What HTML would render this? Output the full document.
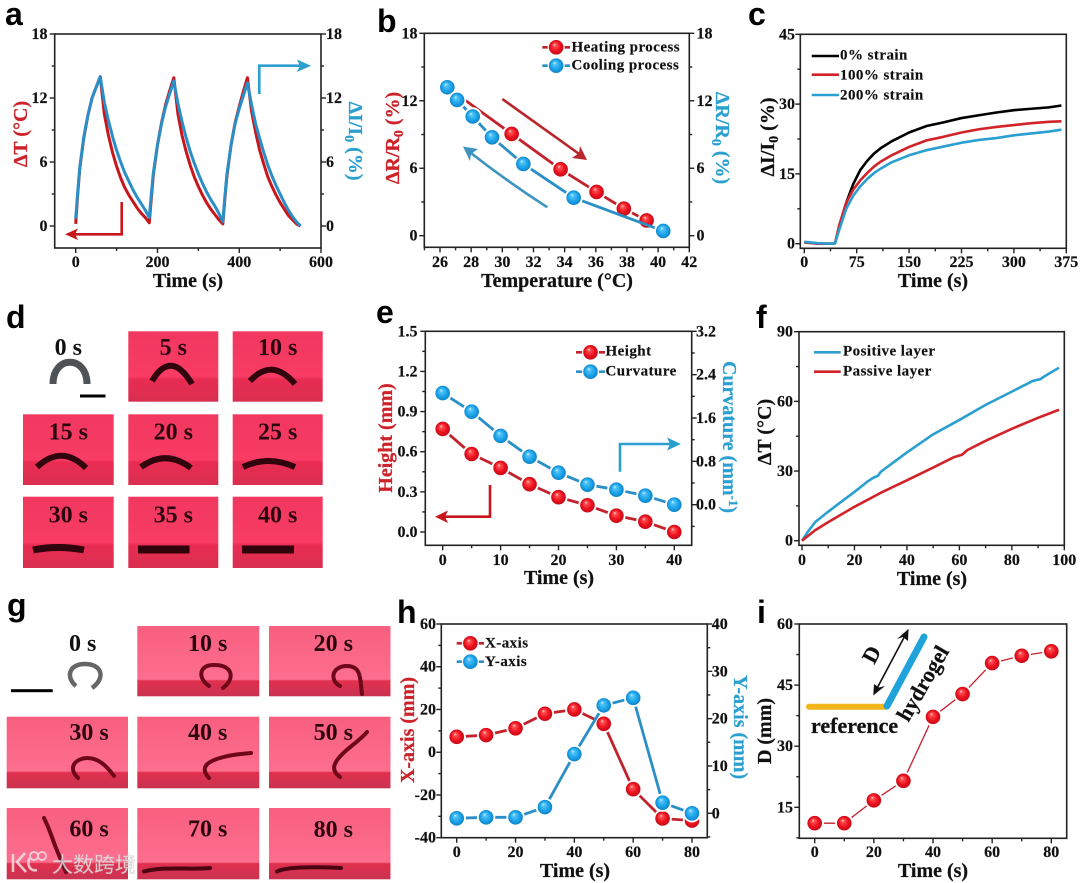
<!DOCTYPE html>
<html lang="en">
<head>
<meta charset="utf-8">
<title>Hydrogel actuator figure</title>
<style>
html,body{margin:0;padding:0;background:#fff;}
svg{display:block;filter:blur(.3px);}
text{font-family:"Liberation Serif","Noto Serif CJK SC",serif;font-weight:bold;fill:#111;}
.tick{font-size:16px;stroke:#111;stroke-width:.2px;}
.title{font-size:20px;text-anchor:middle;stroke:#111;stroke-width:.25px;}
.legend{font-size:15px;letter-spacing:.45px;stroke:#111;stroke-width:.15px;}
.letter{font-family:"Liberation Sans",sans-serif;font-size:32px;fill:#000;}
.red{fill:#cc2229;stroke:#cc2229;}
.blue{fill:#2a9fd0;stroke:#2a9fd0;}
.cap{font-size:24px;text-anchor:middle;fill:#2b0610;}
.spec{fill:none;stroke:#30030d;stroke-linecap:butt;}
.specg{fill:none;stroke:#6e0719;stroke-width:4;stroke-linecap:round;}
.ar{fill:none;stroke-width:2.6;}
</style>
</head>
<body>
<svg id="fig" xmlns="http://www.w3.org/2000/svg" width="1080" height="883" viewBox="0 0 1080 883">
<defs>
<radialGradient id="ballRed" cx="50%" cy="50%" r="52%" fx="38%" fy="30%">
<stop offset="0" stop-color="#ffe0e0"/><stop offset=".2" stop-color="#ff5050"/><stop offset=".65" stop-color="#ec0f1e"/><stop offset="1" stop-color="#c00c18"/>
</radialGradient>
<radialGradient id="ballBlue" cx="50%" cy="50%" r="52%" fx="38%" fy="30%">
<stop offset="0" stop-color="#e0f5ff"/><stop offset=".2" stop-color="#52c4f8"/><stop offset=".65" stop-color="#1aa2e8"/><stop offset="1" stop-color="#1080c4"/>
</radialGradient>
<linearGradient id="dBg" x1="0" y1="0" x2="0" y2="1">
<stop offset="0" stop-color="#f23860"/><stop offset=".64" stop-color="#f83c64"/><stop offset=".68" stop-color="#e82c52"/><stop offset="1" stop-color="#da2f50"/>
</linearGradient>
<linearGradient id="gBg" x1="0" y1="0" x2="0" y2="1">
<stop offset="0" stop-color="#f85f80"/><stop offset=".76" stop-color="#fd6e8e"/><stop offset=".78" stop-color="#e0304f"/><stop offset="1" stop-color="#c93350"/>
</linearGradient>
</defs>

<!-- panel letters -->
<text class="letter" x="5" y="25">a</text>
<text class="letter" x="377" y="32">b</text>
<text class="letter" x="748" y="25">c</text>
<text class="letter" x="6" y="328">d</text>
<text class="letter" x="376" y="323">e</text>
<text class="letter" x="756" y="328">f</text>
<text class="letter" x="7" y="616">g</text>
<text class="letter" x="397" y="623">h</text>
<text class="letter" x="757" y="623">i</text>

<!-- axis titles -->
<text class="title" x="188" y="287">Time (s)</text>
<text class="title red" transform="rotate(-90 27 134)" x="27" y="134">ΔT (°C)</text>
<text class="title blue" transform="rotate(90 349 141)" x="349" y="141">ΔI/I<tspan dy="4" font-size="14">0</tspan><tspan dy="-4"> (%)</tspan></text>

<text class="title" x="557" y="287">Temperature (°C)</text>
<text class="title red" transform="rotate(-90 399 138)" x="399" y="138">ΔR/R<tspan dy="4" font-size="14">0</tspan><tspan dy="-4"> (%)</tspan></text>
<text class="title blue" transform="rotate(90 716 138)" x="716" y="138">ΔR/R<tspan dy="4" font-size="14">0</tspan><tspan dy="-4"> (%)</tspan></text>

<text class="title" x="933" y="287">Time (s)</text>
<text class="title" transform="rotate(-90 774 137)" x="774" y="137">ΔI/I<tspan dy="4" font-size="14">0</tspan><tspan dy="-4"> (%)</tspan></text>

<text class="title" x="559" y="584">Time (s)</text>
<text class="title red" transform="rotate(-90 392 438)" x="392" y="438">Height (mm)</text>
<text class="title blue" transform="rotate(90 723 437)" x="723" y="437">Curvature (mm<tspan dy="-6" font-size="13">-1</tspan><tspan dy="6">)</tspan></text>

<text class="title" x="932" y="585">Time (s)</text>
<text class="title" transform="rotate(-90 771 432)" x="771" y="432">ΔT (°C)</text>

<text class="title" x="575" y="877">Time (s)</text>
<text class="title red" transform="rotate(-90 414 730)" x="414" y="730">X-axis (mm)</text>
<text class="title blue" transform="rotate(90 734 727)" x="734" y="727">Y-axis (mm)</text>

<text class="title" x="933" y="877">Time (s)</text>
<text class="title" transform="rotate(-90 771 731)" x="771" y="731">D (mm)</text>

<!-- panel d photo strip -->
<g>
<g>
<path d="M53 384 C53 355 87 355 87 384" fill="none" stroke="#505355" stroke-width="7"/>
<rect x="80" y="394.5" width="25.5" height="3" fill="#000"/>
<text class="cap" x="68.3" y="355" style="fill:#111">0 s</text>
</g>
<g><rect x="128.3" y="331.3" width="90" height="70.4" fill="url(#dBg)"/><path class="spec" stroke-width="6" d="M152 381 Q171 349 192 384"/><text class="cap" x="173.3" y="355">5 s</text></g>
<g><rect x="232.7" y="331.3" width="90" height="70.4" fill="url(#dBg)"/><path class="spec" stroke-width="6" d="M250 381 Q272 357 295 384"/><text class="cap" x="277.7" y="355">10 s</text></g>
<g><rect x="23" y="414.3" width="90.7" height="70.7" fill="url(#dBg)"/><path class="spec" stroke-width="6" d="M37 467 Q62 444 86 468"/><text class="cap" x="68.3" y="439.3">15 s</text></g>
<g><rect x="128.3" y="414.3" width="90" height="70.7" fill="url(#dBg)"/><path class="spec" stroke-width="6" d="M141 467 Q166 449 191 468"/><text class="cap" x="173.3" y="439.3">20 s</text></g>
<g><rect x="232.7" y="414.3" width="90" height="70.7" fill="url(#dBg)"/><path class="spec" stroke-width="6" d="M243 467 Q268 455 295 467"/><text class="cap" x="277.7" y="439.3">25 s</text></g>
<g><rect x="23" y="496.7" width="90.7" height="71.3" fill="url(#dBg)"/><path class="spec" stroke-width="7" d="M33 550 Q58 545 84 550"/><text class="cap" x="68.3" y="522.7">30 s</text></g>
<g><rect x="128.3" y="496.7" width="90" height="71.3" fill="url(#dBg)"/><path class="spec" stroke-width="8" d="M138 549.5 L189.5 549.5"/><text class="cap" x="173.3" y="522.7">35 s</text></g>
<g><rect x="232.7" y="496.7" width="90" height="71.3" fill="url(#dBg)"/><path class="spec" stroke-width="8" d="M242 549.5 L294 549.5"/><text class="cap" x="277.7" y="522.7">40 s</text></g>
</g>

<!-- panel g photo strip -->
<g>
<g>
<path d="M76 686 C66 678 68 664 85 664 C102 664 106 678 92 688" fill="none" stroke="#666" stroke-width="4.5"/>
<rect x="11" y="689.2" width="41.7" height="3" fill="#000"/>
<text class="cap" x="82.7" y="651" style="fill:#111">0 s</text>
</g>
<g><rect x="137.3" y="626" width="122" height="70.3" fill="url(#gBg)"/><path class="specg" d="M209 686 C197 678 199 664 215 665 C232 665 236 678 223 688"/><text class="cap" x="207.7" y="651">10 s</text></g>
<g><rect x="269" y="626" width="121.5" height="70.3" fill="url(#gBg)"/><path class="specg" d="M340 686 C329 680 332 666 347 666 C362 666 360 680 362 694"/><text class="cap" x="333.3" y="651">20 s</text></g>
<g><rect x="6.7" y="716.7" width="121.3" height="71.6" fill="url(#gBg)"/><path class="specg" d="M78 778 C66 766 78 758 87 758 C98 758 106 765 114 776"/><text class="cap" x="89" y="740">30 s</text></g>
<g><rect x="137.3" y="716.7" width="122" height="71.6" fill="url(#gBg)"/><path class="specg" d="M209 778 C200 768 206 762 220 758 C232 754 242 754 251 753"/><text class="cap" x="207.7" y="740">40 s</text></g>
<g><rect x="269" y="716.7" width="121.5" height="71.6" fill="url(#gBg)"/><path class="specg" d="M340 777 C330 770 333 762 346.7 750 C355 743 362 738 367 732"/><text class="cap" x="333.3" y="740">50 s</text></g>
<g><rect x="6.7" y="808" width="121.3" height="71.3" fill="url(#gBg)"/><path class="specg" d="M44 818 C50 830 52 838 56 848 C60 858 63 864 66 872"/><text class="cap" x="89" y="836.7">60 s</text></g>
<g><rect x="137.3" y="808" width="122" height="71.3" fill="url(#gBg)"/><path class="specg" style="stroke:#4a0412" d="M144 871.5 C165 866 190 870 210 868"/><text class="cap" x="207.7" y="836.7">70 s</text></g>
<g><rect x="269" y="808" width="121.5" height="71.3" fill="url(#gBg)"/><path class="specg" style="stroke:#4a0412" d="M277 871.5 C288 866 320 867 341 868"/><text class="cap" x="333.3" y="837">80 s</text></g>
</g>

<!-- watermark -->
<g opacity=".78">
<path d="M13 854 L13 872 M25 853 L17 862 L26 872 M30 858 C26 864 30 872 37 870" fill="none" stroke="#eee" stroke-width="2.6"/>
<circle cx="34" cy="856" r="4" fill="none" stroke="#eee" stroke-width="1.8"/>
<circle cx="42" cy="856" r="4" fill="none" stroke="#eee" stroke-width="1.8"/>
<text x="52" y="872" style="font-family:'Liberation Sans','Noto Sans CJK SC',sans-serif;font-size:21px;font-weight:normal;fill:#f2f2f2;stroke:#bbb;stroke-width:.4px">大数跨境</text>
</g>

<!-- annotation arrows -->
<g><polyline class="ar" stroke="#c8161d" points="121.7,202 121.7,234.3 72,234.3"/><polygon fill="#c8161d" points="65,234.3 78,228.5 75,234.3 78,240"/></g>
<g><polyline class="ar" stroke="#2a9fd0" points="259.3,94 259.3,65.7 304,65.7"/><polygon fill="#2a9fd0" points="311,65.7 297,59.5 300,65.7 297,72"/></g>
<g><line class="ar" stroke="#b8252b" x1="502.3" y1="99" x2="582" y2="156"/><polygon fill="#b8252b" points="587,160 572,158 579,153 580,146"/></g>
<g><path class="ar" stroke="#3d94c0" d="M547.3 207.3 Q505 180 467 150"/><polygon fill="#3d94c0" points="463,146.5 478,149 471,154 470,161"/></g>
<g><polyline class="ar" stroke="#c8161d" points="490,485 490,516.7 442,516.7"/><polygon fill="#c8161d" points="435,516.7 448,510.5 445,516.7 448,523"/></g>
<g><polyline class="ar" stroke="#2a9fd0" points="620,471.7 620,444 674,444"/><polygon fill="#2a9fd0" points="681,444 667,437.5 670,444 667,450.5"/></g>

<!-- panel i inset schematic -->
<g>
<line x1="809" y1="706.7" x2="886" y2="706.7" stroke="#f2b61c" stroke-width="6" stroke-linecap="round"/>
<line x1="887" y1="706" x2="924" y2="637" stroke="#1fa3da" stroke-width="7" stroke-linecap="round"/>
<line x1="874" y1="694" x2="908" y2="630" stroke="#111" stroke-width="1.6"/>
<polygon fill="#111" points="908.5,629 908,641 903,637 897,639"/>
<polygon fill="#111" points="873.3,695.5 874,684 879,687.5 885,686"/>
<text class="title" style="font-size:22px" x="0" y="0" transform="translate(878 658) rotate(-62)">D</text>
<text class="title" style="font-size:22px" x="0" y="0" transform="translate(929 687) rotate(-60)">hydrogel</text>
<text class="title" style="font-size:22px;text-anchor:start" x="811" y="733">reference</text>
</g>

<g id="charts"></g>
</svg>

<script>
/* ---------- panel a ---------- */
const aTime = [0,5,10,20,30,40,50,60,70,80,90,100,110,120,130,140,150,160,170,180,185,190,200,210,220,230,240,250,260,270,280,290,300,310,320,330,340,350,360,365,370,380,390,400,410,420,430,440,450,460,470,480,490,500,510,520,530,540,550];
const aDeltaT = [0.2,3,5.4,8.3,10.4,12,13,14,10.5,8.5,6.9,5.6,4.5,3.6,2.9,2.3,1.7,1.2,0.8,0.3,2.6,4.8,7.6,9.7,11.4,12.7,13.9,10.5,8.5,7,5.7,4.6,3.7,2.9,2.2,1.6,1.1,0.6,0.2,2.6,4.7,7.6,9.7,11.2,12.6,13.9,10.8,8.8,7.1,5.8,4.6,3.7,2.9,2.2,1.6,1,0.6,0.2,0];
const aDeltaI = [0.7,3.2,5.5,8.4,10.4,12,13,14,11.6,9.9,8.4,7.1,6,5,4.2,3.4,2.7,2.1,1.5,0.8,3,5,7.6,9.6,11.2,12.4,13.6,11.5,9.8,8.3,7,5.9,4.9,4,3.2,2.5,1.9,1.2,0.4,2.8,4.9,7.6,9.6,11,12.2,13.4,11.4,9.6,8.2,6.9,5.7,4.7,3.8,3,2.2,1.5,0.9,0.4,0];
const aXTicks = ['0','200','400','600'];
const aYTicks = ['0','6','12','18'];

/* ---------- panel b ---------- */
const bHeatTemp = [26.47,30.6,33.74,36.05,37.8,39.26];
const bHeatR = [13.2,9.05,5.9,3.89,2.4,1.36];
const bCoolTemp = [26.47,27.1,28.1,29.34,31.35,34.58,40.33];
const bCoolR = [13.2,12.07,10.6,8.75,6.38,3.38,0.42];
const bXTicks = ['26','28','30','32','34','36','38','40','42'];
const bYTicks = ['0','6','12','18'];

/* ---------- panel c ---------- */
const cTime = [0,20,40,44,50,60,70,80,90,100,110,125,150,175,200,225,250,275,300,325,350,368];
const cStrain0 = [0.3,0,0,0.1,3.5,8.8,12.8,15.8,17.8,19.4,20.6,22,23.9,25.3,26.1,27,27.6,28.2,28.7,29,29.3,29.7];
const cStrain100 = [0.3,0,0,0.1,4,8.8,11.6,13.6,15.2,16.6,17.7,19,20.8,22.2,23,23.9,24.6,25.1,25.5,25.9,26.2,26.3];
const cStrain200 = [0.4,0.1,0,0.1,3,7.5,10.3,12.3,13.9,15.2,16.2,17.5,19,20.1,20.9,21.7,22.3,22.7,23.3,23.7,24.1,24.5];
const cXTicks = ['0','75','150','225','300','375'];
const cYTicks = ['0','15','30','45'];

/* ---------- panel e ---------- */
const eTime = [0,5,10,15,20,25,30,35,40];
const eHeight = [0.77,0.583,0.479,0.357,0.26,0.2,0.122,0.077,0];
const eCurvature = [2.06,1.717,1.27,0.886,0.59,0.37,0.277,0.166,0];
const eXTicks = ['0','10','20','30','40'];
const eYTicks = ['0.0','0.3','0.6','0.9','1.2','1.5'];
const eRightTicks = ['0.0','0.8','1.6','2.4','3.2'];

/* ---------- panel f ---------- */
const fPosTime = [0,2,5,10,15,20,25,27,29,30,31,40,50,60,70,80,88,91,92,98];
const fPositive = [0,3.5,8,12.5,16.8,21,25.5,27,28,29.6,30.5,38,45.8,52,58.5,64.2,68.8,69.6,70.5,74.5];
const fPasTime = [0,5,10,20,30,40,50,58,61,63,70,80,90,98];
const fPassive = [0,4.5,8,14.6,20.6,26,31.5,36,37,39,43,48.2,52.9,56.4];
const fXTicks = ['0','20','40','60','80','100'];
const fYTicks = ['0','30','60','90'];

/* ---------- panel h ---------- */
const hTime = [0,10,20,30,40,50,60,70,80];
const hXAxis = [7.2,8,11.2,18,20,13.3,-17.3,-31,-32];
const hYAxis = [-1.06,-0.85,-0.85,1.3,12.5,22.8,24.4,2.25,0];
const hXTicks = ['0','20','40','60','80'];
const hYTicks = ['-40','-20','0','20','40','60'];
const hRightTicks = ['0','10','20','30','40'];

/* ---------- panel i ---------- */
const iTime = [0,10,20,30,40,50,60,70,80];
const iD = [11.1,11.1,16.7,21.5,37.2,42.8,50.4,52.2,53.3];
const iXTicks = ['0','20','40','60','80'];
const iYTicks = ['15','30','45','60'];

const SVGNS = 'http://www.w3.org/2000/svg';
const DARKAX = '#222';
const chartsRoot = document.getElementById('charts');

function make(tag, attrs, parent) {
  const el = document.createElementNS(SVGNS, tag);
  for (const k in attrs) el.setAttribute(k, attrs[k]);
  parent.appendChild(el);
  return el;
}
function linear(d0, d1, r0, r1) {
  return v => r0 + (v - d0) * (r1 - r0) / (d1 - d0);
}
function tickMark(g, x1, y1, x2, y2) {
  const t = make('line', {x1, y1, x2, y2, stroke: DARKAX, 'stroke-width': 1.4}, g);
  
  
}
function tickLabel(g, s, x, y, anchor) {
  const t = make('text', {class: 'tick', x, y, 'text-anchor': anchor}, g);
  t.textContent = s;
  
  
}
function minorValues(ticks, scale, lo, hi) {
  const nums = ticks.map(parseFloat), step = nums[1] - nums[0], out = [];
  for (let k = -4; k < nums.length + 4; k++) {
    const v = nums[0] + (k + 0.5) * step, p = scale(v);
    if (p >= Math.min(lo, hi) - .2 && p <= Math.max(lo, hi) + .2) out.push(v);
  }
  return out;
}
function drawFrame(g, box) {
  const r = make('rect', {x: box.L, y: box.T, width: box.R - box.L, height: box.B - box.T, fill: 'none', stroke: DARKAX, 'stroke-width': 1.6}, g);
  
  
}
function drawXAxis(g, box, ticks, sx, labelY) {
  ticks.forEach(s => {
    const p = sx(parseFloat(s));
    tickMark(g, p, box.B, p, box.B + 5);
    tickLabel(g, s, p, labelY, 'middle');
  });
  minorValues(ticks, sx, box.L, box.R).forEach(v => tickMark(g, sx(v), box.B, sx(v), box.B + 3));
}
function drawYAxis(g, box, ticks, sy, labelX) {
  ticks.forEach(s => {
    const p = sy(parseFloat(s));
    tickMark(g, box.L, p, box.L - 5, p);
    tickLabel(g, s, labelX, p + 5, 'end');
  });
  minorValues(ticks, sy, box.T, box.B).forEach(v => tickMark(g, box.L, sy(v), box.L - 3, sy(v)));
}
function drawRightAxis(g, box, ticks, sy, labelX) {
  ticks.forEach(s => {
    const p = sy(parseFloat(s));
    tickMark(g, box.R, p, box.R + 5, p);
    tickLabel(g, s, labelX, p + 5, 'start');
  });
  minorValues(ticks, sy, box.T, box.B).forEach(v => tickMark(g, box.R, sy(v), box.R + 3, sy(v)));
}
function drawLine(g, xs, ys, sx, sy, color, width) {
  const d = xs.map((x, i) => (i ? 'L' : 'M') + sx(x).toFixed(2) + ' ' + sy(ys[i]).toFixed(2)).join(' ');
  const p = make('path', {d, fill: 'none', stroke: color, 'stroke-width': width, 'stroke-linejoin': 'round'}, g);
  
  
}
function drawBall(g, x, y, grad, halo) {
  if (halo) make('circle', {cx: x, cy: y, r: 9.2, fill: '#fff'}, g);
  const c = make('circle', {cx: x, cy: y, r: 7.3, fill: 'url(#' + grad + ')'}, g);
  
  
}
function drawBalls(g, xs, ys, sx, sy, grad, halo) {
  xs.forEach((x, i) => drawBall(g, sx(x), sy(ys[i]), grad, halo));
}
function legendBall(g, x1, x2, y, color, grad, label, tx, ty) {
  const l = make('line', {x1, x2, y1: y, y2: y, stroke: color, 'stroke-width': 2.6}, g);
  
  
  make('circle', {cx: (x1 + x2) / 2, cy: y, r: 8.5, fill: '#fff'}, g);
  drawBall(g, (x1 + x2) / 2, y, grad, false);
  const t = make('text', {class: 'legend', x: tx, y: ty}, g);
  t.textContent = label;
  
  
}
function legendLine(g, x1, x2, y, color, label, tx, ty) {
  const l = make('line', {x1, x2, y1: y, y2: y, stroke: color, 'stroke-width': 2.6}, g);
  
  
  const t = make('text', {class: 'legend', x: tx, y: ty}, g);
  t.textContent = label;
  
  
}

/* panel a */
(function () {
  const g = make('g', {}, chartsRoot);
  
  
  const box = {L: 54.7, R: 321, T: 34, B: 248};
  const sx = linear(0, 600, 75.7, 321), sy = linear(0, 18, 226, 34);
  drawLine(g, aTime, aDeltaT, sx, sy, '#c8161d', 3);
  drawLine(g, aTime, aDeltaI, sx, sy, '#2a8fc6', 3);
  drawFrame(g, box);
  drawXAxis(g, box, aXTicks, sx, 267);
  drawYAxis(g, box, aYTicks, sy, 47.5);
  drawRightAxis(g, box, aYTicks, sy, 326);
})();

/* panel b */
(function () {
  const g = make('g', {}, chartsRoot);
  
  
  const box = {L: 424.3, R: 689.3, T: 33.3, B: 247.3};
  const sx = linear(26, 42, 440, 689.3), sy = linear(0, 18, 235.7, 33.3);
  drawLine(g, bHeatTemp, bHeatR, sx, sy, '#c2222c', 2.8);
  drawBalls(g, bHeatTemp, bHeatR, sx, sy, 'ballRed', true);
  drawLine(g, bCoolTemp, bCoolR, sx, sy, '#2a8fc6', 2.8);
  drawBalls(g, bCoolTemp, bCoolR, sx, sy, 'ballBlue', true);
  drawFrame(g, box);
  drawXAxis(g, box, bXTicks, sx, 267);
  drawYAxis(g, box, bYTicks, sy, 417.5);
  drawRightAxis(g, box, bYTicks, sy, 696.5);
  legendBall(g, 542.3, 570, 47.3, '#c2222c', 'ballRed', 'Heating process', 571.5, 51.7);
  legendBall(g, 542.3, 570, 65.7, '#2a8fc6', 'ballBlue', 'Cooling process', 571.5, 69.5);
})();

/* panel c */
(function () {
  const g = make('g', {}, chartsRoot);
  
  
  const box = {L: 800.3, R: 1066.3, T: 34.3, B: 248.3};
  const sx = linear(0, 375, 804.3, 1066.3), sy = linear(0, 45, 243.7, 34.3);
  drawLine(g, cTime, cStrain0, sx, sy, '#000', 2.6);
  drawLine(g, cTime, cStrain100, sx, sy, '#d2232a', 2.6);
  drawLine(g, cTime, cStrain200, sx, sy, '#2a9fd0', 2.6);
  drawFrame(g, box);
  drawXAxis(g, box, cXTicks, sx, 267);
  drawYAxis(g, box, cYTicks, sy, 795);
  legendLine(g, 811.7, 839, 56, '#000', '0% strain', 840, 59.5);
  legendLine(g, 811.7, 839, 74.7, '#d2232a', '100% strain', 840, 79.5);
  legendLine(g, 811.7, 839, 95, '#2a9fd0', '200% strain', 840, 99.5);
})();

/* panel e */
(function () {
  const g = make('g', {}, chartsRoot);
  
  
  const box = {L: 425.3, R: 691.7, T: 331.3, B: 545.3};
  const sx = linear(0, 40, 442.7, 674.3);
  const syL = linear(0, 1.5, 532, 331.3), syR = linear(0, 3.2, 504.7, 331.3);
  drawLine(g, eTime, eHeight, sx, syL, '#c2222c', 2.8);
  drawBalls(g, eTime, eHeight, sx, syL, 'ballRed', true);
  drawLine(g, eTime, eCurvature, sx, syR, '#2a8fc6', 2.8);
  drawBalls(g, eTime, eCurvature, sx, syR, 'ballBlue', true);
  drawFrame(g, box);
  drawXAxis(g, box, eXTicks, sx, 565);
  drawYAxis(g, box, eYTicks, syL, 417.5);
  drawRightAxis(g, box, eRightTicks, syR, 696);
  legendBall(g, 576, 605, 352.3, '#c2222c', 'ballRed', 'Height', 605.5, 355.7);
  legendBall(g, 576, 605, 371.7, '#2a8fc6', 'ballBlue', 'Curvature', 605.5, 375.7);
})();

/* panel f */
(function () {
  const g = make('g', {}, chartsRoot);
  
  
  const box = {L: 799, R: 1064.3, T: 331.7, B: 545.3};
  const sx = linear(0, 100, 802, 1064.3), sy = linear(0, 90, 540.7, 331.7);
  drawLine(g, fPosTime, fPositive, sx, sy, '#2a9fd0', 2.6);
  drawLine(g, fPasTime, fPassive, sx, sy, '#d2232a', 2.6);
  drawFrame(g, box);
  drawXAxis(g, box, fXTicks, sx, 565);
  drawYAxis(g, box, fYTicks, sy, 793);
  legendLine(g, 814, 840.7, 352.3, '#2a9fd0', 'Positive layer', 843, 355.7);
  legendLine(g, 814, 840.7, 371.7, '#d2232a', 'Passive layer', 843, 375.7);
})();

/* panel h */
(function () {
  const g = make('g', {}, chartsRoot);
  
  
  const box = {L: 441.3, R: 707.3, T: 624, B: 837.7};
  const sx = linear(0, 80, 456.7, 692);
  const syL = linear(-40, 60, 837.7, 624), syR = linear(0, 40, 813.3, 624);
  drawLine(g, hTime, hXAxis, sx, syL, '#c2222c', 2.8);
  drawBalls(g, hTime, hXAxis, sx, syL, 'ballRed', true);
  drawLine(g, hTime, hYAxis, sx, syR, '#2a8fc6', 2.8);
  drawBalls(g, hTime, hYAxis, sx, syR, 'ballBlue', true);
  drawFrame(g, box);
  drawXAxis(g, box, hXTicks, sx, 857);
  drawYAxis(g, box, hYTicks, syL, 436);
  drawRightAxis(g, box, hRightTicks, syR, 711.7);
  legendBall(g, 456.7, 484, 643.3, '#c2222c', 'ballRed', 'X-axis', 485, 647.7);
  legendBall(g, 456.7, 484, 661.7, '#2a8fc6', 'ballBlue', 'Y-axis', 485, 666);
})();

/* panel i */
(function () {
  const g = make('g', {}, chartsRoot);
  
  
  const box = {L: 799.3, R: 1066.7, T: 624, B: 838.3};
  const sx = linear(0, 80, 814.7, 1051.3), sy = linear(15, 60, 807.3, 624);
  drawLine(g, iTime, iD, sx, sy, '#c2222c', 1.3);
  drawBalls(g, iTime, iD, sx, sy, 'ballRed', true);
  drawFrame(g, box);
  drawXAxis(g, box, iXTicks, sx, 857);
  drawYAxis(g, box, iYTicks, sy, 793);
})();
</script>
</body>
</html>
